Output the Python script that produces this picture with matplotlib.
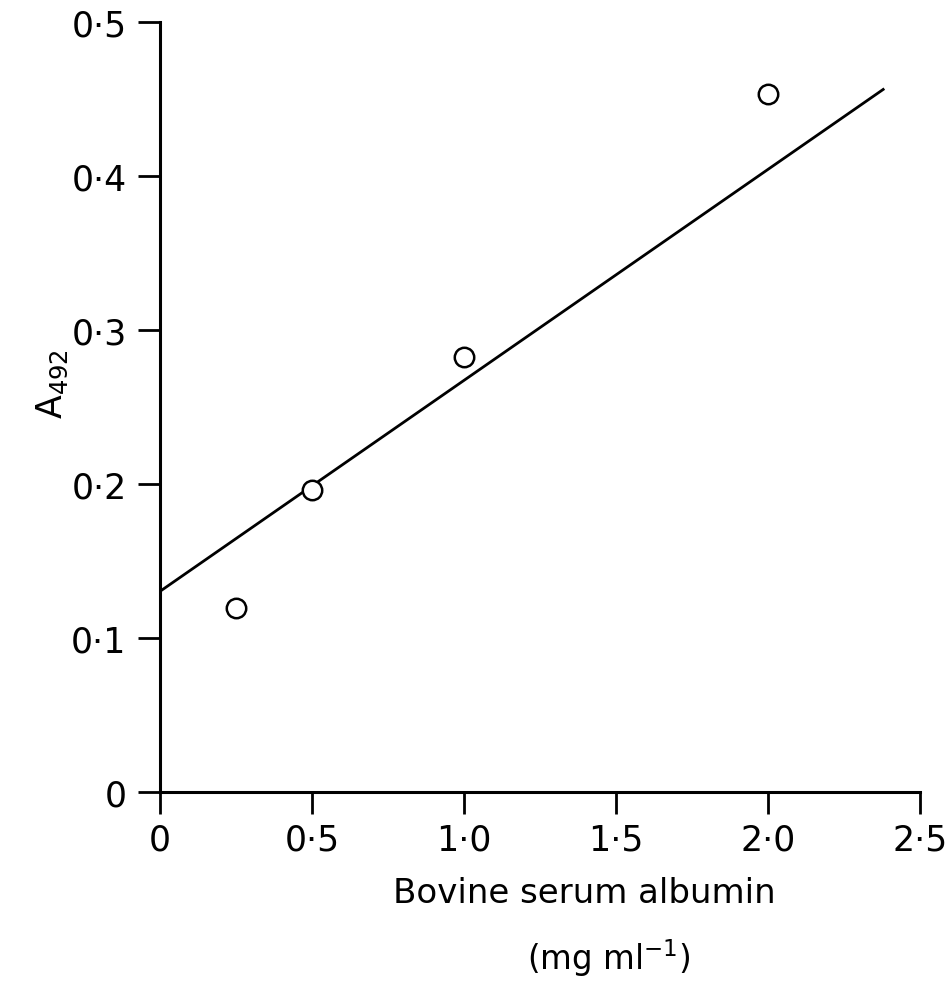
"""A492 vs bovine serum albumin calibration plot (scanned figure recreation)."""

import matplotlib
matplotlib.use("Agg")
import matplotlib.pyplot as plt
import numpy as np

# measured points
bsa_conc = [0.25, 0.5, 1.0, 2.0]          # mg ml-1
absorb   = [0.119, 0.196, 0.282, 0.453]   # A492

# hand-drawn fit line end points
fit_x = [0.0, 2.38]
fit_y = [0.130, 0.456]

x_ticks = [0, 0.5, 1.0, 1.5, 2.0, 2.5]
x_tick_labels = ["0", "0·5", "1·0", "1·5", "2·0", "2·5"]
y_ticks = [0, 0.1, 0.2, 0.3, 0.4, 0.5]
y_tick_labels = ["0", "0·1", "0·2", "0·3", "0·4", "0·5"]

FONT = "DejaVu Sans"
FS = 25

fig = plt.figure(figsize=(9.52, 9.87), dpi=100)
ax = fig.add_axes([0.168, 0.197, 0.798, 0.780])

ax.plot(fit_x, fit_y, color="black", linewidth=2.0, zorder=2)
ax.plot(bsa_conc, absorb, linestyle="none", marker="o", markersize=14,
        markerfacecolor="white", markeredgecolor="black",
        markeredgewidth=1.8, zorder=3)

ax.set_xlim(0, 2.5)
ax.set_ylim(0, 0.5)
ax.set_xticks(x_ticks)
ax.set_xticklabels(x_tick_labels, fontsize=FS, family=FONT)
ax.set_yticks(y_ticks)
ax.set_yticklabels(y_tick_labels, fontsize=FS, family=FONT)

for side in ("top", "right"):
    ax.spines[side].set_visible(False)
for side in ("left", "bottom"):
    ax.spines[side].set_linewidth(2.2)

ax.tick_params(axis="x", direction="out", length=16, width=2.0, pad=6)
ax.tick_params(axis="y", direction="out", length=16, width=2.0, pad=8)

ax.set_ylabel(r"$\mathregular{A_{492}}$", fontsize=FS, family=FONT)
ax.yaxis.set_label_coords(-0.118, 0.53)

fig.text(0.614, 0.095, "Bovine serum albumin", ha="center", va="center",
         fontsize=24.5, family=FONT)
fig.text(0.639, 0.029, r"(mg ml$^{\mathregular{-1}}$)", ha="center",
         va="center", fontsize=23.5, family=FONT)

fig.savefig("out.png", dpi=100)
